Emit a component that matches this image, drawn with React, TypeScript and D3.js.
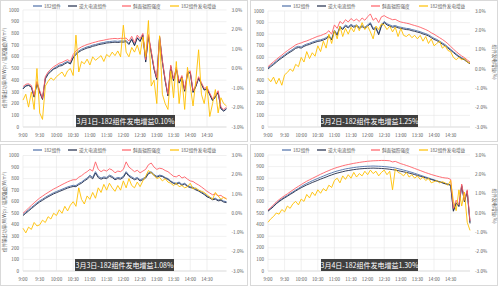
import React from "react";
import * as d3 from "d3";

const SERIES_NAMES = ["182组件", "逆大电流组件", "斜面辐照强度", "182组件发电增益"];
const SERIES_COLORS = ["#4e6fa8", "#1f2a48", "#ff5f66", "#ffc000"];
const X_TICK_LABELS = ["9:00", "9:30", "10:00", "10:30", "11:00", "11:30", "12:00", "12:30", "13:00", "13:30", "14:00", "14:30"];
const LEFT_TICKS = [0, 100, 200, 300, 400, 500, 600, 700, 800, 900, 1000];
const RIGHT_TICKS = [-3, -2, -1, 0, 1, 2, 3];
const TITLES = [
  "3月1日-182组件发电增益0.10%",
  "3月2日-182组件发电增益1.25%",
  "3月3日-182组件发电增益1.08%",
  "3月4日-182组件发电增益1.30%",
];
const LEFT_AXIS_TITLE = "组件输出功率(W/Wp) / 辐照强度(W/m²)";
const RIGHT_AXIS_TITLE = "组件发电增益(%)";

// sample times: 9:00 to 15:05, every 5 minutes (minutes since midnight)
const TIMES = d3.range(74).map((i) => 540 + i * 5);

// ---- 3月1日 ----
const B1 = [330, 355, 360, 345, 260, 380, 300, 240, 420, 460, 480, 500,
  515, 530, 535, 550, 560, 545, 600, 630, 650, 665, 675, 685,
  690, 700, 705, 712, 718, 722, 728, 730, 733, 735, 732, 736,
  735, 740, 712, 755, 700, 765, 735, 790, 560, 780, 640, 500,
  410, 770, 560, 400, 270, 520, 400, 500, 380, 430, 310, 460,
  470, 300, 350, 420, 370, 320, 330, 280, 230, 260, 300, 160,
  140, 160];
const N1 = [325, 350, 355, 340, 255, 370, 295, 235, 410, 450, 475, 495,
  505, 520, 525, 540, 552, 538, 590, 620, 640, 655, 665, 675,
  680, 690, 695, 703, 708, 712, 718, 720, 722, 725, 722, 726,
  725, 730, 705, 748, 695, 760, 730, 785, 555, 775, 635, 495,
  405, 765, 555, 395, 265, 515, 395, 495, 375, 425, 305, 455,
  465, 295, 345, 415, 365, 315, 325, 275, 225, 255, 295, 155,
  135, 155];
const R1 = [345, 365, 370, 355, 270, 390, 310, 245, 430, 470, 495, 515,
  530, 545, 552, 565, 575, 560, 620, 650, 670, 685, 695, 705,
  712, 720, 726, 733, 738, 742, 748, 752, 755, 757, 754, 758,
  757, 760, 735, 775, 720, 785, 755, 800, 575, 790, 650, 510,
  420, 775, 570, 410, 280, 530, 410, 510, 390, 440, 320, 470,
  480, 310, 360, 430, 380, 330, 340, 290, 240, 270, 310, 170,
  150, 170];
const G1 = [-1.62, -1.32, -1.98, -1.2, -2.1, 0, -2.28, -2.61, -0.9, -0.66, -0.48, -0.6,
  -0.42, -0.3, -0.18, -0.42, -0.12, 0, -0.36, 1.71, -0.18, 0.36, 0.24, 0.48,
  0.18, 0.6, 0.42, 0.54, 0.66, 0.36, 0.72, 0.6, 0.84, 0.66, 0.9, 0.6,
  2.22, 0.84, 0.6, 1.08, 0.84, 1.2, 0.72, 1.62, 0.6, 2.46, -0.9, -0.6,
  -1.8, 1.68, -1.32, -1.8, -2.1, -0.12, -1.5, 0.36, -1.8, -0.48, -2.1, 0.06,
  -0.9, -1.92, -0.6, 0.96, -1.32, -1.8, -0.9, -2.46, -1.8, -1.08, -2.28, -1.5,
  -1.8, -1.92];

// ---- 3月2日 ----
const B2 = [510, 530, 548, 568, 588, 605, 622, 640, 655, 670, 688, 695,
  690, 705, 715, 722, 732, 740, 748, 752, 760, 770, 790, 760,
  835, 800, 870, 850, 880, 865, 885, 870, 880, 860, 875, 860,
  880, 900, 850, 860, 805, 880, 910, 890, 880, 870, 875, 865,
  860, 855, 850, 848, 840, 835, 828, 822, 812, 805, 795, 780,
  765, 755, 740, 725, 710, 690, 670, 650, 630, 612, 598, 585,
  565, 550];
const N2 = [500, 520, 538, 558, 578, 595, 612, 630, 645, 660, 678, 685,
  680, 695, 705, 712, 722, 730, 738, 742, 750, 760, 780, 750,
  825, 790, 860, 840, 870, 855, 875, 860, 870, 850, 865, 850,
  870, 890, 840, 850, 795, 870, 900, 880, 870, 860, 865, 855,
  850, 845, 840, 838, 830, 825, 818, 812, 802, 795, 785, 770,
  755, 745, 730, 715, 700, 680, 662, 642, 622, 605, 590, 578,
  560, 545];
const R2 = [520, 542, 562, 582, 602, 620, 640, 658, 675, 690, 708, 718,
  725, 735, 742, 752, 762, 772, 782, 788, 798, 808, 830, 800,
  880, 850, 910, 890, 925, 905, 935, 915, 930, 910, 940, 920,
  950, 975, 920, 940, 900, 950, 960, 945, 935, 925, 928, 915,
  905, 900, 895, 890, 882, 875, 868, 860, 850, 840, 828, 812,
  800, 785, 770, 755, 738, 718, 695, 672, 650, 630, 612, 598,
  578, 560];
const G2 = [-0.48, -0.66, -0.42, -0.78, -0.48, -0.84, -0.3, -0.18, 0, -0.12, 0.24, 0.12,
  0.6, 0.36, 0.9, 0.54, 0.84, 0.66, 1.2, 0.9, 1.44, 1.08, 1.8, 1.32,
  1.98, 1.56, 2.22, 1.68, 2.1, 1.8, 2.16, 1.92, 2.28, 1.98, 2.4, 2.04,
  2.22, 1.92, 1.56, 2.22, 2.04, 2.34, 2.28, 2.04, 2.22, 1.92, 2.16, 1.68,
  2.1, 1.74, 1.68, 1.8, 1.62, 1.74, 1.56, 1.74, 1.44, 1.68, 1.32, 1.56,
  1.2, 1.32, 1.44, 1.08, 1.2, 0.96, 0.9, 0.6, 0.48, 0.6, 0.48, 0.54,
  0.36, 0.3];

// ---- 3月3日 ----
const B3 = [490, 510, 530, 550, 570, 590, 608, 622, 638, 652, 665, 678,
  688, 698, 708, 718, 728, 735, 742, 740, 758, 770, 790, 805,
  830, 810, 860, 820, 805, 815, 810, 830, 820, 800, 810, 805,
  820, 860, 830, 815, 800, 810, 790, 800, 815, 850, 860, 835,
  820, 830, 825, 810, 800, 780, 765, 760, 770, 750, 760, 740,
  730, 725, 710, 700, 685, 670, 650, 640, 625, 630, 615, 620,
  605, 600];
const N3 = [480, 500, 520, 540, 560, 580, 598, 612, 628, 642, 655, 668,
  678, 688, 698, 708, 718, 725, 732, 730, 748, 760, 780, 795,
  818, 798, 848, 808, 795, 805, 800, 820, 810, 790, 800, 795,
  810, 850, 820, 805, 790, 800, 780, 790, 805, 842, 852, 828,
  812, 822, 818, 803, 793, 773, 758, 752, 762, 742, 752, 732,
  722, 717, 702, 692, 677, 662, 642, 632, 617, 622, 607, 612,
  597, 592];
const R3 = [500, 522, 545, 568, 590, 612, 632, 648, 665, 680, 695, 710,
  722, 735, 748, 760, 772, 782, 790, 790, 812, 825, 845, 860,
  880, 865, 945, 880, 860, 875, 865, 885, 875, 850, 865, 860,
  880, 945, 900, 880, 860, 872, 850, 865, 880, 920, 935, 900,
  880, 890, 885, 870, 860, 840, 820, 815, 830, 805, 815, 795,
  780, 775, 758, 745, 728, 710, 690, 675, 660, 668, 650, 655,
  635, 628];
const G3 = [-0.78, -1.02, -0.72, -0.84, -0.48, -0.66, -0.6, -0.36, -0.48, -0.18, -0.3, 0,
  -0.12, 0.18, 0, 0.36, 0.12, 0.42, 0.6, 0.36, 1.32, 0.72, 0.48, 0.9,
  0.72, 1.08, 0.78, 1.32, 1.08, 1.5, 1.2, 1.56, 1.32, 1.14, 1.44, 1.2,
  1.68, 1.32, 1.8, 1.44, 1.32, 1.62, 1.38, 1.68, 1.92, 2.22, 2.1, 1.98,
  1.8, 1.86, 1.68, 1.8, 1.62, 1.56, 1.44, 1.56, 1.38, 1.44, 1.32, 1.38,
  1.56, 1.26, 1.32, 1.2, 1.14, 1.08, 0.96, 0.84, 0.72, 1.08, 0.9, 0.72,
  0.84, 0.72];

// ---- 3月4日 ----
const B4 = [520, 540, 560, 585, 605, 622, 638, 652, 668, 682, 698, 712,
  728, 742, 755, 766, 778, 788, 798, 808, 818, 828, 838, 846,
  855, 862, 868, 874, 880, 884, 888, 892, 895, 898, 900, 902,
  903, 904, 905, 904, 903, 902, 900, 898, 895, 892, 888, 882,
  876, 870, 864, 857, 850, 842, 834, 826, 818, 810, 802, 794,
  786, 778, 770, 762, 755, 750, 742, 520, 590, 560, 740, 600,
  690, 420];
const N4 = [515, 535, 555, 580, 598, 615, 630, 644, 660, 674, 690, 704,
  718, 730, 742, 752, 763, 772, 782, 792, 801, 810, 820, 828,
  837, 844, 850, 856, 862, 866, 870, 874, 877, 880, 882, 884,
  885, 886, 887, 886, 885, 884, 882, 880, 877, 874, 870, 865,
  860, 855, 850, 844, 838, 831, 824, 817, 810, 803, 796, 789,
  782, 775, 768, 760, 752, 746, 738, 515, 585, 555, 735, 595,
  685, 410];
const R4 = [525, 548, 570, 595, 615, 633, 650, 665, 682, 698, 715, 730,
  745, 760, 774, 786, 798, 810, 822, 834, 845, 856, 866, 876,
  885, 893, 900, 907, 913, 918, 923, 928, 932, 936, 940, 943,
  946, 948, 950, 951, 952, 953, 953, 952, 950, 940, 945, 935,
  925, 918, 910, 902, 893, 884, 875, 866, 857, 848, 840, 832,
  825, 818, 812, 806, 802, 800, 790, 540, 610, 570, 750, 610,
  700, 430];
const G4 = [-0.48, -0.3, -0.18, 0, -0.06, 0.18, 0.06, 0.36, 0.24, 0.48, 0.6, 0.42,
  0.72, 0.6, 0.96, 0.78, 1.08, 0.9, 1.2, 1.02, 1.26, 1.14, 1.44, 1.32,
  1.68, 1.8, 1.56, 1.92, 1.74, 1.98, 1.8, 2.1, 1.86, 2.04, 1.92, 2.16,
  1.98, 2.22, 2.04, 2.16, 1.92, 2.1, 2.22, 1.98, 2.16, 1.2, 2.28, 2.1,
  2.04, 1.92, 2.1, 1.86, 1.98, 1.8, 1.92, 1.74, 1.86, 1.68, 1.8, 1.56,
  1.62, 1.68, 1.56, 1.62, 1.56, 1.44, 1.68, 0.6, 0.12, 1.2, 0.36, 1.08,
  -0.48, -0.9];

const DATA = [
  { blue: B1, navy: N1, red: R1, gain: G1 },
  { blue: B2, navy: N2, red: R2, gain: G2 },
  { blue: B3, navy: N3, red: R3, gain: G3 },
  { blue: B4, navy: N4, red: R4, gain: G4 },
];

const LAYOUT = [
  { ox: 0, oy: 0, left: 23, right: 226.5, top: 10, bottom: 127, leftTitle: true, rightTitle: false, legendX: 33, box: [76, 175] },
  { ox: 250, oy: 0, left: 18, right: 220, top: 11, bottom: 127, leftTitle: false, rightTitle: true, legendX: 32, box: [71, 168] },
  { ox: 0, oy: 144, left: 23, right: 226.5, top: 11.5, bottom: 127, leftTitle: true, rightTitle: false, legendX: 33, box: [75, 174] },
  { ox: 250, oy: 144, left: 18, right: 220, top: 11, bottom: 127, leftTitle: false, rightTitle: true, legendX: 32, box: [71, 168] },
];

const FONT = "'Noto Sans CJK SC', 'Noto Sans', sans-serif";
const toMin = (s: string) => {
  const [h, m] = s.split(":").map(Number);
  return h * 60 + m;
};

function Panel({ idx }: { idx: number }) {
  const L = LAYOUT[idx];
  const D = DATA[idx];
  const x = d3.scaleLinear().domain([540, 905]).range([L.left, L.right]);
  const y = d3.scaleLinear().domain([0, 1000]).range([L.bottom, L.top]);
  const y2 = d3.scaleLinear().domain([-3, 3]).range([L.bottom, L.top]);
  const line = d3.line<number>().x((_, i) => x(TIMES[i])).y((d) => y(d));
  const line2 = d3.line<number>().x((_, i) => x(TIMES[i])).y((d) => y2(d));
  const legendOffsets = [0, 35, 89, 137];
  return (
    <g transform={`translate(${L.ox},${L.oy})`} fontFamily={FONT}>
      <rect x={0.5} y={0.5} width={247} height={141} fill="#fff" stroke="#d9d9d9" />
      {LEFT_TICKS.map((t) => (
        <line key={"h" + t} x1={L.left} x2={L.right} y1={y(t)} y2={y(t)} stroke={t === 0 ? "#bfbfbf" : "#e6e6e6"} strokeWidth={0.6} />
      ))}
      {X_TICK_LABELS.map((s) => (
        <line key={"v" + s} x1={x(toMin(s))} x2={x(toMin(s))} y1={L.top} y2={L.bottom} stroke="#e6e6e6" strokeWidth={0.6} />
      ))}
      {LEFT_TICKS.map((t) => (
        <text key={"lt" + t} x={L.left - 4} y={y(t) + 1.6} fontSize={4.6} textAnchor="end" fill="#595959">{t}</text>
      ))}
      {RIGHT_TICKS.map((t) => (
        <text key={"rt" + t} x={L.right + 5} y={y2(t) + 1.6} fontSize={4.6} textAnchor="start" fill="#595959">{t.toFixed(1) + "%"}</text>
      ))}
      {X_TICK_LABELS.map((s) => (
        <text key={"xt" + s} x={x(toMin(s))} y={136.5} fontSize={4.6} textAnchor="middle" fill="#595959">{s}</text>
      ))}
      {L.leftTitle && (
        <text transform={`translate(6,68) rotate(-90)`} fontSize={4.6} textAnchor="middle" fill="#595959">{LEFT_AXIS_TITLE}</text>
      )}
      {L.rightTitle && (
        <text transform={`translate(243,62) rotate(90)`} fontSize={4.6} textAnchor="middle" fill="#595959">{RIGHT_AXIS_TITLE}</text>
      )}
      <path d={line(D.blue) || ""} fill="none" stroke={SERIES_COLORS[0]} strokeWidth={0.9} />
      <path d={line(D.navy) || ""} fill="none" stroke={SERIES_COLORS[1]} strokeWidth={0.9} />
      <path d={line(D.red) || ""} fill="none" stroke={SERIES_COLORS[2]} strokeWidth={0.9} />
      <path d={line2(D.gain) || ""} fill="none" stroke={SERIES_COLORS[3]} strokeWidth={0.9} />
      {SERIES_NAMES.map((n, i) => (
        <g key={n} transform={`translate(${L.legendX + legendOffsets[i]},6)`}>
          <line x1={0} x2={9} y1={0} y2={0} stroke={SERIES_COLORS[i]} strokeWidth={1.2} />
          <text x={11} y={1.6} fontSize={4.6} fill="#595959">{n}</text>
        </g>
      ))}
      <rect x={L.box[0]} y={115} width={L.box[1] - L.box[0]} height={12} fill="#3f3f3f" />
      <text x={(L.box[0] + L.box[1]) / 2} y={123.6} fontSize={7} fill="#ffffff" textAnchor="middle">{TITLES[idx]}</text>
    </g>
  );
}

export default function App() {
  return (
    <div style={{ position: "fixed", left: 0, top: 0 }}>
      <svg width={500} height={288} viewBox="0 0 500 288" style={{ display: "block", background: "#fff" }}>
        {[0, 1, 2, 3].map((i) => (
          <Panel key={i} idx={i} />
        ))}
      </svg>
    </div>
  );
}
